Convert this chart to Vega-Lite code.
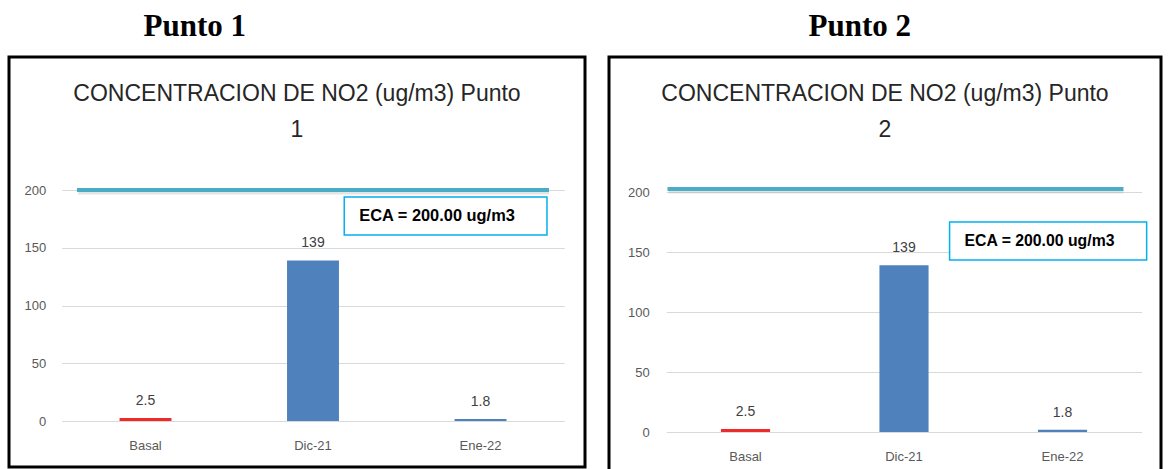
{
  "$schema": "https://vega.github.io/schema/vega-lite/v6.json",
  "background": "white",
  "padding": {"left": 7, "top": 10, "right": 0, "bottom": 0},
  "spacing": 20,
  "config": {
    "font": "Liberation Sans",
    "view": {"stroke": null},
    "axis": {"labelFont": "Liberation Sans", "labelFontSize": 13, "labelColor": "#595959", "ticks": false, "domain": false, "gridColor": "#D9D9D9", "gridWidth": 1, "title": null},
    "title": {"font": "Liberation Sans", "fontSize": 23, "fontWeight": "normal", "color": "#262626", "lineHeight": 36},
    "text": {"font": "Liberation Sans"}
  },
  "hconcat": [
    {
      "title": {"text": "Punto 1", "anchor": "start", "dx": 136, "offset": 13, "font": "Liberation Serif", "fontSize": 31, "fontWeight": "bold", "color": "#000000", "lineHeight": 31},
      "vconcat": [
        {
          "width": 576,
          "height": 410,
          "view": {"stroke": "#000000", "strokeWidth": 3},
          "title": {"text": ["CONCENTRACION DE NO2 (ug/m3) Punto", "1"], "anchor": "middle", "offset": -85},
          "layer": [
            {
              "data": {"values": [
                {"periodo": "Basal", "no2": 2.5},
                {"periodo": "Dic-21", "no2": 139},
                {"periodo": "Ene-22", "no2": 1.8}
              ]},
              "layer": [
                {
                  "mark": {"type": "bar"},
                  "encoding": {
                    "x": {"field": "periodo", "type": "nominal", "sort": null,
                      "scale": {"domain": ["Basal", "Dic-21", "Ene-22"], "range": [52.75, 555.25], "paddingInner": 0.69, "paddingOuter": 0.345},
                      "axis": {"labelAngle": 0, "offset": -46, "labelPadding": 18, "grid": false}},
                    "y": {"field": "no2", "type": "quantitative",
                      "scale": {"domain": [0, 200], "range": [364, 133], "nice": false, "zero": true},
                      "axis": {"values": [0, 50, 100, 150, 200], "offset": -52.75, "labelPadding": 16, "grid": true}},
                    "color": {"field": "periodo", "type": "nominal",
                      "scale": {"domain": ["Basal", "Dic-21", "Ene-22"], "range": ["#EE2A2A", "#4F81BD", "#4F81BD"]},
                      "legend": null}
                  }
                },
                {
                  "mark": {"type": "text", "baseline": "bottom", "dy": -10, "fontSize": 14, "color": "#404040"},
                  "encoding": {
                    "x": {"field": "periodo", "type": "nominal", "sort": null},
                    "y": {"field": "no2", "type": "quantitative"},
                    "text": {"field": "no2", "type": "quantitative"}
                  }
                }
              ]
            },
            {
              "data": {"values": [{"eca": 200, "etiqueta": "ECA = 200.00 ug/m3"}]},
              "layer": [
                {
                  "mark": {"type": "rule", "color": "#A6A6A6", "opacity": 0.3, "strokeWidth": 3, "strokeCap": "butt", "yOffset": 3},
                  "encoding": {
                    "x": {"datum": 0.12, "type": "quantitative", "scale": {"domain": [0, 1], "nice": false, "zero": false}, "axis": null},
                    "x2": {"datum": 0.9375},
                    "y": {"field": "eca", "type": "quantitative"}
                  }
                },
                {
                  "mark": {"type": "rule", "color": "#4BACC6", "strokeWidth": 4, "strokeCap": "butt"},
                  "encoding": {
                    "x": {"datum": 0.118, "type": "quantitative"},
                    "x2": {"datum": 0.9375},
                    "y": {"field": "eca", "type": "quantitative"}
                  }
                },
                {
                  "mark": {"type": "rect", "fill": "white", "stroke": "#00B0F0", "strokeWidth": 1.5},
                  "encoding": {
                    "x": {"datum": 0.582, "type": "quantitative"},
                    "x2": {"datum": 0.934},
                    "y": {"datum": 193.9, "type": "quantitative"},
                    "y2": {"datum": 161}
                  }
                },
                {
                  "mark": {"type": "text", "align": "left", "baseline": "middle", "fontWeight": "bold", "fontSize": 16.4, "color": "#000000"},
                  "encoding": {
                    "x": {"datum": 0.608, "type": "quantitative"},
                    "y": {"datum": 177.5, "type": "quantitative"},
                    "text": {"field": "etiqueta"}
                  }
                }
              ]
            }
          ],
          "resolve": {"scale": {"x": "independent"}, "axis": {"x": "independent"}}
        }
      ]
    },
    {
      "title": {"text": "Punto 2", "anchor": "start", "dx": 201, "offset": 13, "font": "Liberation Serif", "fontSize": 31, "fontWeight": "bold", "color": "#000000", "lineHeight": 31},
      "vconcat": [
        {
          "width": 552,
          "height": 414,
          "view": {"stroke": "#000000", "strokeWidth": 3},
          "title": {"text": ["CONCENTRACION DE NO2 (ug/m3) Punto", "2"], "anchor": "middle", "offset": -85},
          "layer": [
            {
              "data": {"values": [
                {"periodo": "Basal", "no2": 2.5},
                {"periodo": "Dic-21", "no2": 139},
                {"periodo": "Ene-22", "no2": 1.8}
              ]},
              "layer": [
                {
                  "mark": {"type": "bar"},
                  "encoding": {
                    "x": {"field": "periodo", "type": "nominal", "sort": null,
                      "scale": {"domain": ["Basal", "Dic-21", "Ene-22"], "range": [57.25, 532.75], "paddingInner": 0.69, "paddingOuter": 0.345},
                      "axis": {"labelAngle": 0, "offset": -39, "labelPadding": 18, "grid": false}},
                    "y": {"field": "no2", "type": "quantitative",
                      "scale": {"domain": [0, 200], "range": [375, 135], "nice": false, "zero": true},
                      "axis": {"values": [0, 50, 100, 150, 200], "offset": -57.25, "labelPadding": 17, "grid": true}},
                    "color": {"field": "periodo", "type": "nominal",
                      "scale": {"domain": ["Basal", "Dic-21", "Ene-22"], "range": ["#FF0000", "#4F81BD", "#4F81BD"]},
                      "legend": null}
                  }
                },
                {
                  "mark": {"type": "text", "baseline": "bottom", "dy": -10, "fontSize": 14, "color": "#404040"},
                  "encoding": {
                    "x": {"field": "periodo", "type": "nominal", "sort": null},
                    "y": {"field": "no2", "type": "quantitative"},
                    "text": {"field": "no2", "type": "quantitative"}
                  }
                }
              ]
            },
            {
              "data": {"values": [{"eca": 202.5, "etiqueta": "ECA = 200.00 ug/m3"}]},
              "layer": [
                {
                  "mark": {"type": "rule", "color": "#A6A6A6", "opacity": 0.3, "strokeWidth": 3, "strokeCap": "butt", "yOffset": 3},
                  "encoding": {
                    "x": {"datum": 0.108, "type": "quantitative", "scale": {"domain": [0, 1], "nice": false, "zero": false}, "axis": null},
                    "x2": {"datum": 0.932},
                    "y": {"field": "eca", "type": "quantitative"}
                  }
                },
                {
                  "mark": {"type": "rule", "color": "#4BACC6", "strokeWidth": 4, "strokeCap": "butt"},
                  "encoding": {
                    "x": {"datum": 0.106, "type": "quantitative"},
                    "x2": {"datum": 0.932},
                    "y": {"field": "eca", "type": "quantitative"}
                  }
                },
                {
                  "mark": {"type": "rect", "fill": "white", "stroke": "#00B0F0", "strokeWidth": 1.5},
                  "encoding": {
                    "x": {"datum": 0.617, "type": "quantitative"},
                    "x2": {"datum": 0.974},
                    "y": {"datum": 175, "type": "quantitative"},
                    "y2": {"datum": 143.3}
                  }
                },
                {
                  "mark": {"type": "text", "align": "left", "baseline": "middle", "fontWeight": "bold", "fontSize": 15.8, "color": "#000000"},
                  "encoding": {
                    "x": {"datum": 0.644, "type": "quantitative"},
                    "y": {"datum": 159.2, "type": "quantitative"},
                    "text": {"field": "etiqueta"}
                  }
                }
              ]
            }
          ],
          "resolve": {"scale": {"x": "independent"}, "axis": {"x": "independent"}}
        }
      ]
    }
  ]
}
